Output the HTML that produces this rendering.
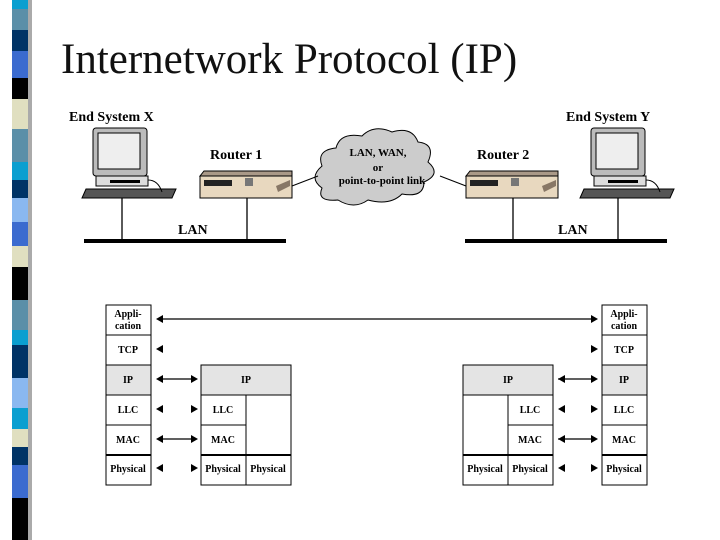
<!DOCTYPE html>
<html><head><style>
body{margin:0;width:720px;height:540px;background:#fff;position:relative;overflow:hidden;font-family:"Liberation Serif",serif}
.t{position:absolute;left:61px;top:35px;font-size:43px;color:#111}
</style></head><body>
<div class="t">Internetwork Protocol (IP)</div>
<svg width="720" height="540" style="position:absolute;left:0;top:0;font-family:'Liberation Serif',serif;font-weight:bold">
<text x="69" y="121" font-size="14">End System X</text>
<text x="566" y="121" font-size="14">End System Y</text>
<text x="210" y="159" font-size="14">Router 1</text>
<text x="477" y="159" font-size="14">Router 2</text>
<text x="178" y="234" font-size="14">LAN</text>
<text x="558" y="234" font-size="14">LAN</text>
<g id="pc">
<rect x="93" y="128" width="54" height="48" rx="3" fill="#bbb" stroke="#000"/>
<rect x="98" y="133" width="42" height="36" fill="#eee" stroke="#000"/>
<rect x="96" y="176" width="52" height="10" fill="#ddd" stroke="#000"/>
<rect x="110" y="180" width="30" height="3" fill="#000"/>
<polygon points="86,189 176,189 172,198 82,198" fill="#555" stroke="#000"/>
<path d="M148 180 q10 0 14 12" fill="none" stroke="#000"/>
</g>
<use href="#pc" transform="translate(498,0)"/>
<g id="rt">
<polygon points="200,176 204,171 292,171 292,176" fill="#a98" stroke="#000"/>
<rect x="200" y="176" width="92" height="22" fill="#e8d8bf" stroke="#000"/>
<rect x="204" y="180" width="28" height="6" fill="#222"/>
<rect x="245" y="178" width="8" height="8" fill="#777"/>
<polygon points="276,186 290,180 290,186 278,192" fill="#876"/>
</g>
<use href="#rt" transform="translate(266,0)"/>
<path d="M322 188 q-14 -10 0 -22 q-6 -16 14 -18 q4 -16 26 -12 q12 -12 30 -4 q20 -6 26 10 q18 2 10 20 q14 12 -4 20 q0 16 -22 12 q-12 12 -34 6 q-14 10 -30 0 q-22 2 -16 -12z" fill="#ccc" stroke="#000"/>
<text x="378" y="156" font-size="11" text-anchor="middle">LAN, WAN,</text>
<text x="378" y="171" font-size="11" text-anchor="middle">or</text>
<text x="382" y="184" font-size="11" text-anchor="middle">point-to-point link</text>
<line x1="292" y1="186" x2="318" y2="176" stroke="#000"/>
<line x1="440" y1="176" x2="466" y2="186" stroke="#000"/>
<rect x="84" y="239" width="202" height="4" fill="#000"/>
<rect x="465" y="239" width="202" height="4" fill="#000"/>
<g stroke="#000" stroke-width="1.3">
<line x1="122" y1="198" x2="122" y2="240"/><line x1="247" y1="198" x2="247" y2="240"/>
<line x1="513" y1="198" x2="513" y2="240"/><line x1="618" y1="198" x2="618" y2="240"/>
</g>
<g stroke="#000" fill="#fff" stroke-width="1">
<rect x="106" y="305" width="45" height="180"/>
<rect x="106" y="365" width="45" height="30" fill="#e4e4e4"/>
<line x1="106" y1="335" x2="151" y2="335"/><line x1="106" y1="425" x2="151" y2="425"/>
<line x1="106" y1="455" x2="151" y2="455" stroke-width="2"/>
<rect x="602" y="305" width="45" height="180"/>
<rect x="602" y="365" width="45" height="30" fill="#e4e4e4"/>
<line x1="602" y1="335" x2="647" y2="335"/><line x1="602" y1="425" x2="647" y2="425"/>
<line x1="602" y1="455" x2="647" y2="455" stroke-width="2"/>
<rect x="201" y="365" width="90" height="120"/>
<rect x="201" y="365" width="90" height="30" fill="#e4e4e4"/>
<line x1="246" y1="395" x2="246" y2="485"/>
<line x1="201" y1="425" x2="246" y2="425"/>
<line x1="201" y1="455" x2="291" y2="455" stroke-width="2"/>
<rect x="463" y="365" width="90" height="120"/>
<rect x="463" y="365" width="90" height="30" fill="#e4e4e4"/>
<line x1="508" y1="395" x2="508" y2="485"/>
<line x1="508" y1="425" x2="553" y2="425"/>
<line x1="463" y1="455" x2="553" y2="455" stroke-width="2"/>
</g>
<g font-size="10" text-anchor="middle">
<text x="128" y="317">Appli-</text><text x="128" y="329">cation</text>
<text x="128" y="353">TCP</text><text x="128" y="383">IP</text><text x="128" y="413">LLC</text><text x="128" y="443">MAC</text><text x="128" y="472">Physical</text>
<text x="624" y="317">Appli-</text><text x="624" y="329">cation</text>
<text x="624" y="353">TCP</text><text x="624" y="383">IP</text><text x="624" y="413">LLC</text><text x="624" y="443">MAC</text><text x="624" y="472">Physical</text>
<text x="246" y="383">IP</text><text x="223" y="413">LLC</text><text x="223" y="443">MAC</text><text x="223" y="472">Physical</text><text x="268" y="472">Physical</text>
<text x="508" y="383">IP</text><text x="530" y="413">LLC</text><text x="530" y="443">MAC</text><text x="485" y="472">Physical</text><text x="530" y="472">Physical</text>
</g>
<g stroke="#000" stroke-width="1.2">
<line x1="158" y1="319" x2="596" y2="319"/>
<line x1="158" y1="379" x2="196" y2="379"/><line x1="158" y1="439" x2="196" y2="439"/>
<line x1="558" y1="379" x2="596" y2="379"/><line x1="558" y1="439" x2="596" y2="439"/>
</g>
<g fill="#000">
<polygon id="la" points="156,319 163,315 163,323"/>
<use href="#la" transform="translate(0,30)"/><use href="#la" transform="translate(0,60)"/><use href="#la" transform="translate(0,90)"/><use href="#la" transform="translate(0,120)"/><use href="#la" transform="translate(0,149)"/>
<use href="#la" transform="translate(402,60)"/><use href="#la" transform="translate(402,90)"/><use href="#la" transform="translate(402,120)"/><use href="#la" transform="translate(402,149)"/>
<polygon id="ra" points="198,379 191,375 191,383"/>
<use href="#ra" transform="translate(0,30)"/><use href="#ra" transform="translate(0,60)"/><use href="#ra" transform="translate(0,89)"/>
<use href="#ra" transform="translate(400,-60)"/><use href="#ra" transform="translate(400,-30)"/><use href="#ra" transform="translate(400,0)"/><use href="#ra" transform="translate(400,30)"/><use href="#ra" transform="translate(400,60)"/><use href="#ra" transform="translate(400,89)"/>
</g>
</svg>
<svg width="40" height="540" style="position:absolute;left:0;top:0">
<g transform="scale(1,3)">
<rect x="12" y="0" width="16" height="4" fill="#0a9fd0"/>
<rect x="12" y="3" width="16" height="8" fill="#5b8fa8"/>
<rect x="12" y="10" width="16" height="8" fill="#003366"/>
<rect x="12" y="17" width="16" height="10" fill="#3b6bcf"/>
<rect x="12" y="26" width="16" height="8" fill="#000"/>
<rect x="12" y="33" width="16" height="11" fill="#e0dfc0"/>
<rect x="12" y="43" width="16" height="12" fill="#5b8fa8"/>
<rect x="12" y="54" width="16" height="7" fill="#0a9fd0"/>
<rect x="12" y="60" width="16" height="7" fill="#003366"/>
<rect x="12" y="66" width="16" height="9" fill="#8ab8f0"/>
<rect x="12" y="74" width="16" height="9" fill="#3b6bcf"/>
<rect x="12" y="82" width="16" height="8" fill="#e0dfc0"/>
<rect x="12" y="89" width="16" height="12" fill="#000"/>
<rect x="12" y="100" width="16" height="11" fill="#5b8fa8"/>
<rect x="12" y="110" width="16" height="6" fill="#0a9fd0"/>
<rect x="12" y="115" width="16" height="12" fill="#003366"/>
<rect x="12" y="126" width="16" height="11" fill="#8ab8f0"/>
<rect x="12" y="136" width="16" height="8" fill="#0a9fd0"/>
<rect x="12" y="143" width="16" height="7" fill="#e0dfc0"/>
<rect x="12" y="149" width="16" height="7" fill="#003366"/>
<rect x="12" y="155" width="16" height="12" fill="#3b6bcf"/>
<rect x="12" y="166" width="16" height="14" fill="#000"/>
</g>
<rect x="28" y="0" width="4" height="540" fill="#aaa"/>
</svg>
</body></html>
